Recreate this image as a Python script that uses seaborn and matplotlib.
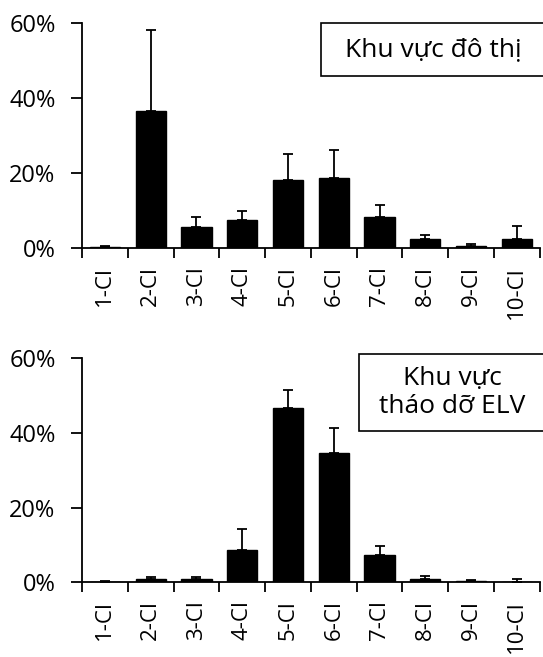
import matplotlib
matplotlib.use("Agg")
import matplotlib.pyplot as plt
import seaborn as sns
import pandas as pd
import numpy as np
from matplotlib.ticker import PercentFormatter, FixedLocator

categories = ["1-CI", "2-CI", "3-CI", "4-CI", "5-CI", "6-CI", "7-CI", "8-CI", "9-CI", "10-CI"]
urban_values = [0.3, 36.5, 5.5, 7.4, 18.2, 18.8, 8.2, 2.4, 0.5, 2.4]
urban_err_top = [0.5, 58.1, 8.3, 9.8, 25.2, 26.2, 11.6, 3.6, 1.1, 6.0]
elv_values = [0.2, 0.8, 0.8, 8.6, 46.8, 34.7, 7.3, 1.0, 0.3, 0.2]
elv_err_top = [0.3, 1.5, 1.5, 14.2, 51.6, 41.4, 9.6, 1.6, 0.5, 0.9]
titles = ["Khu vực đô thị", "Khu vực\ntháo dỡ ELV"]
yticks = [0, 20, 40, 60]

sns.set_theme(style="ticks")
plt.rcParams['font.family'] = ['Open Sans', 'DejaVu Sans']
plt.rcParams['text.color'] = 'black'
plt.rcParams['xtick.color'] = 'black'
plt.rcParams['ytick.color'] = 'black'

fig = plt.figure(figsize=(5.43, 6.57), dpi=100)
ax1 = fig.add_axes([0.151, 0.6225, 0.843, 0.3425])
ax2 = fig.add_axes([0.151, 0.1137, 0.843, 0.3409])

panels = [
    (ax1, urban_values, urban_err_top, titles[0], (0.591, 0.965, 0.994, 0.8843)),
    (ax2, elv_values, elv_err_top, titles[1], (0.661, 0.461, 0.994, 0.344)),
]

for ax, vals, errtop, title, box in panels:
    df = pd.DataFrame({"cat": categories, "val": vals})
    sns.barplot(data=df, x="cat", y="val", color="black", width=0.66,
                edgecolor="black", linewidth=1.0, saturation=1, ax=ax)
    x = np.arange(len(categories))
    upper = np.array(errtop) - np.array(vals)
    ax.errorbar(x, vals, yerr=[np.zeros_like(upper), upper], fmt="none",
                ecolor="black", elinewidth=1.3, capsize=3.5, capthick=1.3)
    ax.set_xlim(-0.5, len(categories) - 0.5)
    ax.set_ylim(0, 60)
    ax.set_yticks(yticks)
    ax.yaxis.set_major_formatter(PercentFormatter(decimals=0))
    ax.set_xticks(x)
    ax.set_xticklabels(categories, rotation=90)
    ax.xaxis.set_minor_locator(FixedLocator(np.arange(-0.5, len(categories), 1.0)))
    ax.tick_params(axis="x", which="major", length=0, pad=13, labelsize=16)
    ax.tick_params(axis="x", which="minor", length=7, width=1.3, color="black")
    ax.tick_params(axis="y", which="major", length=8, width=1.3, color="black",
                   labelsize=17, pad=11)
    ax.set_xlabel("")
    ax.set_ylabel("")
    for s in ["top", "right"]:
        ax.spines[s].set_visible(False)
    for s in ["left", "bottom"]:
        ax.spines[s].set_linewidth(1.3)
        ax.spines[s].set_color("black")
    ax.set_facecolor("white")
    x0, y0, x1, y1 = box
    rect = plt.Rectangle((x0, y1), x1 - x0 + 0.01, y0 - y1, transform=fig.transFigure,
                         facecolor="white", edgecolor="black", linewidth=1.2, clip_on=False)
    fig.add_artist(rect)
    fig.text((x0 + x1) / 2 + 0.005, (y0 + y1) / 2, title, ha="center", va="center",
             fontsize=19, linespacing=1.2, color="black")

fig.savefig("out.png", dpi=100, facecolor="white")
